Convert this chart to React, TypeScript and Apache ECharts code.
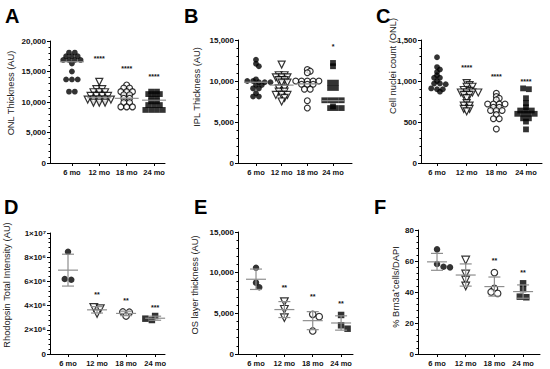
import React, { useEffect, useRef } from "react";
import * as echarts from "echarts";

const FONT = '"Liberation Sans", Arial, Helvetica, sans-serif';
const months = ["6 mo", "12 mo", "18 mo", "24 mo"];

// A: ONL thickness (AU)
const onl6 = [18100, 18100, 17500, 17500, 17500, 16900, 16900, 16900, 16900, 16300, 15000, 13700, 13700, 13700, 11700, 11700];
const onl12 = [13300, 12100, 12100, 11600, 11600, 11600, 11000, 11000, 11000, 11000, 10400, 10400, 10400, 10400, 10400, 9900, 9900, 9900];
const onl18 = [12800, 12300, 12300, 11700, 11700, 11700, 11200, 11200, 10600, 10600, 9900, 9900, 9200, 9200, 9200];
const onl24 = [11700, 11700, 11300, 11300, 11300, 10600, 10600, 10100, 10100, 9500, 9500, 9500, 8700, 8700, 8700, 8700];
const onlMedian = [16600, 10700, 10600, 10300];
const onlStarY = [null, 17300, 15800, 14400];
const onlStarText = ["", "****", "****", "****"];

// B: IPL thickness (AU)
const ipl6 = [12600, 12100, 11800, 10200, 10000, 10000, 9850, 9850, 9850, 9500, 9500, 9100, 9100, 8500, 8100, 8100];
const ipl12 = [12000, 10700, 10700, 10450, 10450, 10450, 10100, 10100, 9800, 9800, 9100, 9100, 8700, 8700, 8300, 8300, 8300, 7950, 7500];
const ipl18 = [11400, 11200, 11000, 10000, 10000, 10000, 10000, 10000, 9600, 9600, 9600, 9000, 9000, 7600, 6700];
const ipl24 = [12200, 11800, 9800, 9800, 9150, 9150, 7650, 7650, 7650, 7650, 6900, 6700, 6700, 6700];
const iplMedian = [9850, 9500, 9650, 7600];
const iplStarY = [null, null, null, 14400];
const iplStarText = ["", "", "", "*"];

// C: Cell nuclei count (ONL)
const cnt6 = [1290, 1170, 1140, 1110, 1070, 1040, 1040, 1000, 970, 970, 960, 910, 900, 900, 870];
const cnt12 = [975, 950, 930, 930, 890, 880, 860, 860, 860, 860, 830, 830, 790, 730, 700, 700, 660, 660, 630];
const cnt18 = [850, 810, 790, 770, 720, 720, 720, 720, 680, 680, 640, 640, 640, 590, 540, 540, 415];
const cnt24 = [910, 900, 790, 730, 680, 640, 640, 640, 600, 600, 600, 600, 545, 545, 505, 410];
const cntStarY = [null, 1180, 1073, 1012];
const cntStarText = ["", "****", "****", "****"];

// D: Rhodopsin total intensity (AU)
const rho6 = [8450000, 6200000, 6140000];
const rho12 = [3850000, 3750000, 3350000];
const rho18 = [3470000, 3450000, 3140000];
const rho24 = [3140000, 2920000, 2810000];
const rhoStarY = [null, 5070000, 4570000, 3970000];
const rhoStarText = ["", "**", "**", "***"];

// E: OS layer thickness (AU)
const os6 = [10600, 8770, 8200];
const os12 = [6430, 5490, 4470];
const os18 = [4880, 4590, 2830];
const os24 = [4800, 3530, 3110];
const osStarY = [null, 8360, 7250, 6350];
const osStarText = ["", "**", "**", "**"];

// F: % Brn3a+ cells / DAPI
const brn6 = [67.5, 58.1, 56.3, 55.9];
const brn12 = [60.6, 51.6, 47.7, 43.9];
const brn18 = [52.5, 42.4, 40.0, 39.1];
const brn24 = [45.6, 41.9, 37.0, 36.6];
const brnStarY = [null, null, 61.3, 53.7];
const brnStarText = ["", "", "**", "**"];

const comma = (v: number) => v.toLocaleString("en-US");
const sci = (v: number) => {
  if (v === 0) return "0";
  if (v === 10000000) return "1×10⁷";
  return `${v / 1000000}×10⁶`;
};

type Panel = {
  letter: string;
  letterPos: [number, number];
  grid: { left: number; top: number; width: number; height: number };
  xMin: number;
  xMax: number;
  yMax: number;
  yInt: number;
  fmt: (v: number) => string;
  title: string;
  titlePos: [number, number];
  groups: number[][];
  lines: "median" | "meansd" | "none";
  median?: number[];
  starY: (number | null)[];
  starText: string[];
  s: number;
  gap: number;
};

const panels: Panel[] = [
  { letter: "A", letterPos: [5, 16], grid: { left: 50, top: 41, width: 115, height: 122 }, xMin: 0.2, xMax: 4.4, yMax: 20000, yInt: 5000, fmt: comma, title: "ONL Thickness (AU)", titlePos: [11, 93], groups: [onl6, onl12, onl18, onl24], lines: "median", median: onlMedian, starY: onlStarY, starText: onlStarText, s: 5.8, gap: 0.5 },
  { letter: "B", letterPos: [184, 16], grid: { left: 238, top: 40, width: 114, height: 123 }, xMin: 0.3, xMax: 4.74, yMax: 15000, yInt: 5000, fmt: comma, title: "IPL Thickness (AU)", titlePos: [197, 87], groups: [ipl6, ipl12, ipl18, ipl24], lines: "median", median: iplMedian, starY: iplStarY, starText: iplStarText, s: 5.8, gap: 0.5 },
  { letter: "C", letterPos: [376, 16], grid: { left: 421, top: 40, width: 121, height: 123 }, xMin: 0.46, xMax: 4.54, yMax: 1500, yInt: 500, fmt: comma, title: "Cell nuclei count (ONL)", titlePos: [393, 66], groups: [cnt6, cnt12, cnt18, cnt24], lines: "none", starY: cntStarY, starText: cntStarText, s: 5.8, gap: 0.5 },
  { letter: "D", letterPos: [4, 207], grid: { left: 50, top: 233, width: 115, height: 121 }, xMin: 0.38, xMax: 4.34, yMax: 10000000, yInt: 2000000, fmt: sci, title: "Rhodopsin Total Intensity (AU)", titlePos: [7, 285], groups: [rho6, rho12, rho18, rho24], lines: "meansd", starY: rhoStarY, starText: rhoStarText, s: 6.5, gap: 0.75 },
  { letter: "E", letterPos: [194, 207], grid: { left: 238, top: 232, width: 115, height: 122 }, xMin: 0.365, xMax: 4.42, yMax: 15000, yInt: 5000, fmt: comma, title: "OS layer thickness (AU)", titlePos: [195, 285], groups: [os6, os12, os18, os24], lines: "meansd", starY: osStarY, starText: osStarText, s: 6.5, gap: 0.75 },
  { letter: "F", letterPos: [374, 207], grid: { left: 418, top: 230, width: 122, height: 124 }, xMin: 0.337, xMax: 4.59, yMax: 80, yInt: 20, fmt: (v: number) => String(v), title: "% Brn3a⁺cells/DAPI", titlePos: [396, 287], groups: [brn6, brn12, brn18, brn24], lines: "meansd", starY: brnStarY, starText: brnStarText, s: 6.5, gap: 0.75 },
];

// simple beeswarm placement in pixel space, converted back to axis units
function swarm(values: number[], cat: number, pxPerVal: number, pxPerX: number, s: number, gap: number): number[][] {
  const sorted = [...values].sort((a, b) => b - a);
  const placed: { x: number; y: number }[] = [];
  const out: number[][] = [];
  const d = gap * s;
  let i = 0;
  while (i < sorted.length) {
    let j = i + 1;
    while (j < sorted.length && (sorted[i] - sorted[j]) * pxPerVal < 1.5) j++;
    const row = sorted.slice(i, j);
    const n = row.length;
    for (let k = 0; k < 60; k++) {
      const c = k === 0 ? 0 : (k % 2 === 1 ? 1 : -1) * Math.ceil(k / 2) * (s / 2);
      const pts = row.map((v, m) => ({ x: c + (m - (n - 1) / 2) * s, y: v * pxPerVal }));
      const ok = pts.every((p) => placed.every((q) => Math.hypot(p.x - q.x, p.y - q.y) >= d));
      if (ok || k === 59) {
        placed.push(...pts);
        pts.forEach((p, m) => out.push([cat + p.x / pxPerX, row[m]]));
        break;
      }
    }
    i = j;
  }
  return out;
}

function meanSd(arr: number[]): [number, number] {
  const m = arr.reduce((a, b) => a + b, 0) / arr.length;
  const v = arr.reduce((a, b) => a + (b - m) * (b - m), 0) / (arr.length - 1);
  return [m, Math.sqrt(v)];
}

const GRAY = "#8e8e8e";
const symbols = ["circle", "triangle", "circle", "rect"];
const itemStyles = [
  { color: "#000" },
  { color: "#fff", borderColor: "#000", borderWidth: 1.2 },
  { color: "#fff", borderColor: "#000", borderWidth: 1.2 },
  { color: "#000" },
];

function buildOption() {
  const grid: any[] = [];
  const xAxis: any[] = [];
  const yAxis: any[] = [];
  const series: any[] = [];
  const graphic: any[] = [];

  panels.forEach((p, i) => {
    grid.push({ ...p.grid, containLabel: false });
    xAxis.push({
      gridIndex: i,
      type: "value",
      min: p.xMin,
      max: p.xMax,
      axisLine: { show: true, onZero: false, lineStyle: { color: "#000", width: 1 } },
      axisTick: { show: true, customValues: [1, 2, 3, 4], length: 3, lineStyle: { color: "#000" } },
      axisLabel: {
        customValues: [1, 2, 3, 4],
        formatter: (v: number) => months[Math.round(v) - 1] || "",
        fontSize: 7.5,
        fontWeight: "bold",
        fontFamily: FONT,
        color: "#111",
        margin: 5,
      },
      splitLine: { show: false },
    });
    yAxis.push({
      gridIndex: i,
      type: "value",
      min: 0,
      max: p.yMax,
      interval: p.yInt,
      axisLine: { show: true, lineStyle: { color: "#000", width: 1 } },
      axisTick: { show: true, length: 3, lineStyle: { color: "#000" } },
      minorTick: { show: true, splitNumber: 5, length: 1.5, lineStyle: { color: "#000" } },
      splitLine: { show: false },
      axisLabel: {
        formatter: p.fmt,
        fontSize: 8,
        fontWeight: "bold",
        fontFamily: FONT,
        color: "#111",
        margin: 4,
      },
    });

    const pxPerVal = p.grid.height / p.yMax;
    const pxPerX = p.grid.width / (p.xMax - p.xMin);

    p.groups.forEach((vals, g) => {
      series.push({
        type: "scatter",
        xAxisIndex: i,
        yAxisIndex: i,
        data: swarm(vals, g + 1, pxPerVal, pxPerX, p.s, p.gap),
        symbol: symbols[g],
        symbolSize: g === 1 ? p.s + 1.2 : p.s,
        symbolRotate: g === 1 ? 180 : 0,
        itemStyle: itemStyles[g],
        z: 3,
        silent: true,
      });
    });

    if (p.lines !== "none") {
      const lineData = p.groups.map((vals, g) => {
        if (p.lines === "median") {
          const m = (p.median as number[])[g];
          return [g + 1, m, m, m];
        }
        const [m, sd] = meanSd(vals);
        return [g + 1, m, m - sd, m + sd];
      });
      const half = p.lines === "median" ? 12 : 10;
      series.push({
        type: "custom",
        xAxisIndex: i,
        yAxisIndex: i,
        data: lineData,
        encode: { x: 0, y: [1, 2, 3] },
        z: 4,
        silent: true,
        clip: false,
        renderItem: (_params: any, api: any) => {
          const x = api.value(0);
          const m = api.value(1);
          const lo = api.value(2);
          const hi = api.value(3);
          const c = api.coord([x, m]);
          const st = { stroke: GRAY, lineWidth: 1.2 };
          const children: any[] = [
            { type: "line", shape: { x1: c[0] - half, y1: c[1], x2: c[0] + half, y2: c[1] }, style: st },
          ];
          if (hi > m) {
            const a = api.coord([x, lo]);
            const b = api.coord([x, hi]);
            children.push({ type: "line", shape: { x1: a[0], y1: a[1], x2: b[0], y2: b[1] }, style: st });
            children.push({ type: "line", shape: { x1: a[0] - 6, y1: a[1], x2: a[0] + 6, y2: a[1] }, style: st });
            children.push({ type: "line", shape: { x1: b[0] - 6, y1: b[1], x2: b[0] + 6, y2: b[1] }, style: st });
          }
          return { type: "group", children };
        },
      });
    }

    const starData: any[] = [];
    p.starY.forEach((y, g) => {
      if (y !== null) starData.push([g + 1, y, g]);
    });
    series.push({
      type: "custom",
      xAxisIndex: i,
      yAxisIndex: i,
      data: starData,
      encode: { x: 0, y: 1 },
      z: 5,
      silent: true,
      clip: false,
      renderItem: (_params: any, api: any) => {
        const c = api.coord([api.value(0), api.value(1)]);
        const g = api.value(2);
        return {
          type: "text",
          x: c[0],
          y: c[1] + 1.5,
          style: {
            text: p.starText[g],
            font: `bold 7px ${FONT}`,
            fill: "#111",
            align: "center",
            verticalAlign: "middle",
          },
        };
      },
    });

    graphic.push({
      type: "text",
      x: p.letterPos[0],
      y: p.letterPos[1],
      style: { text: p.letter, font: `bold 20px ${FONT}`, fill: "#000", align: "left", verticalAlign: "middle" },
    });
    graphic.push({
      type: "text",
      x: p.titlePos[0],
      y: p.titlePos[1],
      rotation: Math.PI / 2,
      style: { text: p.title, font: `9.3px ${FONT}`, fill: "#222", align: "center", verticalAlign: "middle" },
    });
  });

  return {
    animation: false,
    backgroundColor: "#fff",
    grid,
    xAxis,
    yAxis,
    series,
    graphic,
  };
}

export default function App() {
  const ref = useRef<HTMLDivElement>(null);
  useEffect(() => {
    if (!ref.current) return;
    const chart = echarts.init(ref.current, null, { renderer: "svg" });
    chart.setOption(buildOption() as any);
    return () => chart.dispose();
  }, []);
  return <div ref={ref} style={{ width: 550, height: 369, position: "absolute", left: 0, top: 0 }} />;
}
